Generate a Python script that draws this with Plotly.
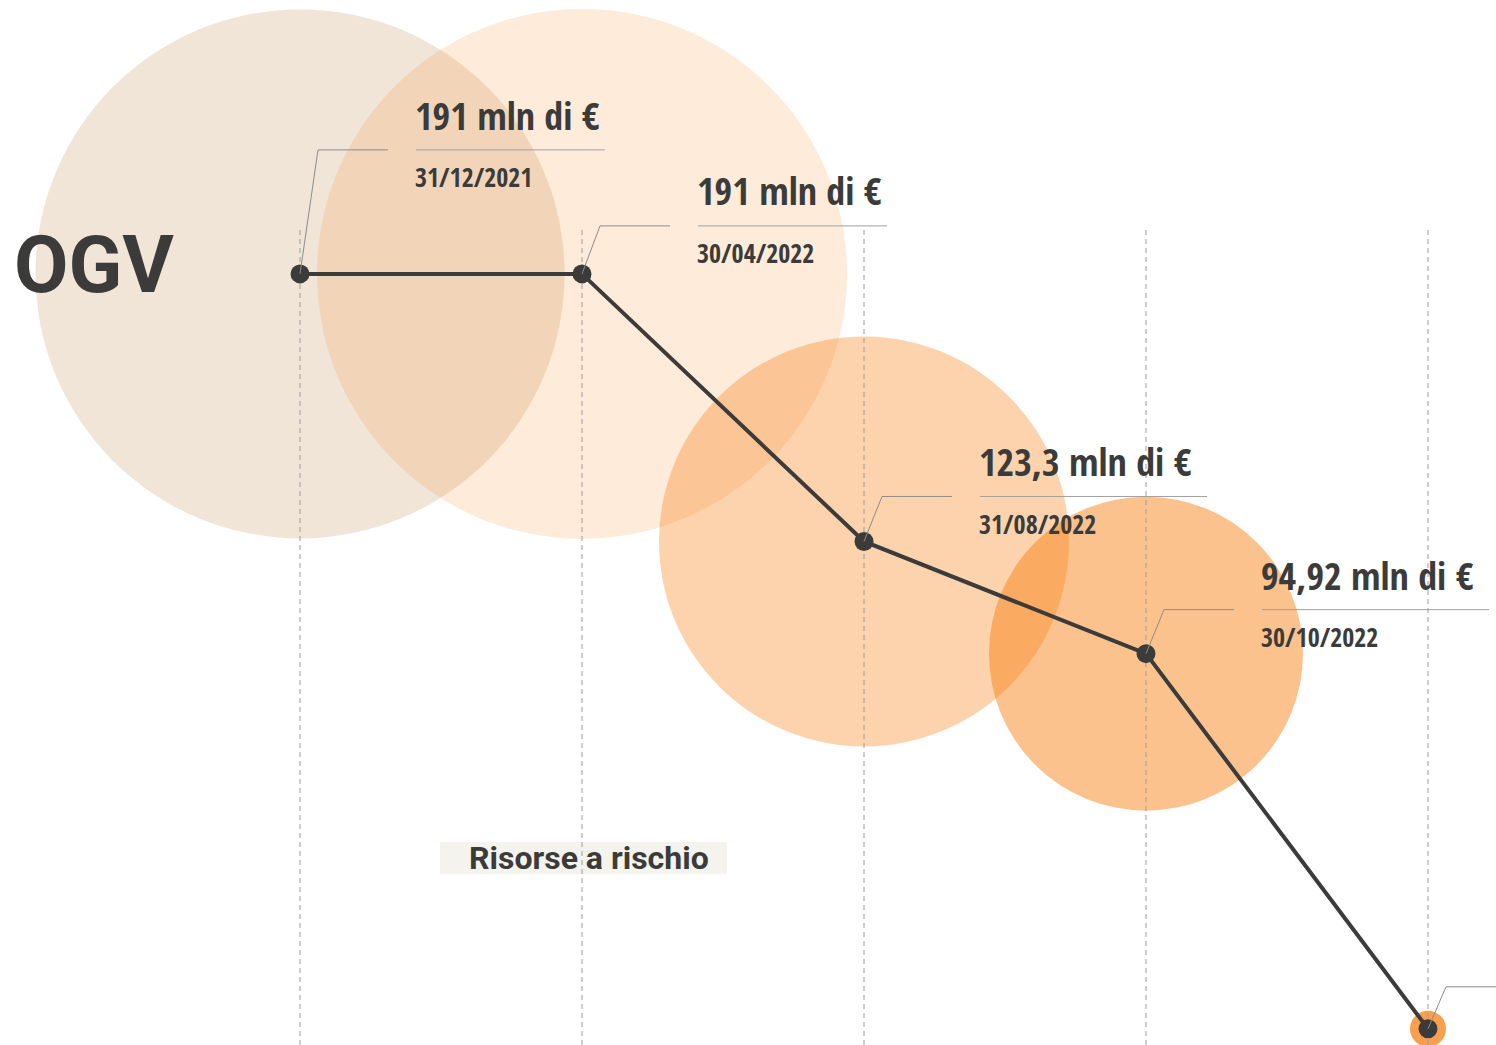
import plotly.graph_objects as go

# ---------------- data ----------------
dates = ["31/12/2021", "30/04/2022", "31/08/2022", "30/10/2022", ""]
values = [191, 191, 123.3, 94.92, 0]
value_labels = ["191 mln di €", "191 mln di €", "123,3 mln di €", "94,92 mln di €", ""]
title_text = "OGV"
legend_text = "Risorse a rischio"

# ---------------- styles ----------------
W, H = 1496, 1045
X_FIRST_PX, X_STEP_PX = 300, 282
X0 = -X_FIRST_PX / X_STEP_PX
X1 = X0 + W / X_STEP_PX
Y1, Y0 = 260.3, -4.1

bubble_diam = [529, 530, 410, 314, 36]
bubble_colors = ["rgba(200,150,100,0.25)", "rgba(248,122,8,0.15)", "rgba(248,122,8,0.33)",
                 "rgba(248,122,8,0.46)", "rgba(248,122,8,0.72)"]
DARK = "#3b3b39"
COND = ("Noto Sans ExtraCondensed, Noto Sans Condensed, Open Sans Condensed, "
        "Liberation Sans Narrow, DejaVu Sans Condensed, Roboto, sans-serif")
# per-label offsets (px, upward): leader elbow, value text, date text
leader_up = [124, 48, 45, 44, 42]
value_up = [159, 84, 80, 79, 0]
date_up = [97, 21, 17, 17, 0]


def px_to_y(py):
    return Y1 - py / H * (Y1 - Y0)


xs = list(range(len(values)))
fig = go.Figure()

# bubbles
fig.add_trace(go.Scatter(
    x=xs, y=values, mode="markers", hoverinfo="skip",
    marker=dict(size=bubble_diam, color=bubble_colors, line=dict(width=0), opacity=1),
))

# dashed vertical guides
for i in xs:
    fig.add_trace(go.Scatter(
        x=[i, i], y=[px_to_y(230), px_to_y(1045)], mode="lines", hoverinfo="skip",
        line=dict(color="#9c9c9c", width=1, dash="5px,4px"),
    ))

# main line
fig.add_trace(go.Scatter(
    x=xs, y=values, mode="lines+markers", hoverinfo="skip",
    line=dict(color=DARK, width=4),
    marker=dict(size=19, color=DARK),
))

shapes = []
annotations = []
for i, (v, lab, d) in enumerate(zip(values, value_labels, dates)):
    up = leader_up[i]
    shapes.append(dict(
        type="path", xref="x", yref="y", xsizemode="pixel", ysizemode="pixel",
        xanchor=i, yanchor=v, path=f"M0,0 L18,{up} L88,{up}",
        line=dict(color="#8c8c8c", width=1),
    ))
    if lab:
        ul = 19 * len(lab) - 39
        shapes.append(dict(
            type="path", xref="x", yref="y", xsizemode="pixel", ysizemode="pixel",
            xanchor=i, yanchor=v, path=f"M116,{up} L{116 + ul},{up}",
            line=dict(color="#a0a0a0", width=1),
        ))
        annotations.append(dict(
            x=i, y=v, xref="x", yref="y", text=lab, showarrow=False,
            xanchor="left", yanchor="middle", xshift=113, yshift=value_up[i],
            font=dict(family=COND, size=38, color=DARK, weight="bold"),
        ))
        annotations.append(dict(
            x=i, y=v, xref="x", yref="y", text=d, showarrow=False,
            xanchor="left", yanchor="middle", xshift=113, yshift=date_up[i],
            font=dict(family=COND, size=26, color=DARK, weight="bold"),
        ))

# title
annotations.append(dict(
    x=12 / W, y=1 - 265 / H, xref="paper", yref="paper", text=title_text, showarrow=False,
    xanchor="left", yanchor="middle",
    font=dict(family="Roboto, DejaVu Sans, sans-serif", size=79, color=DARK, weight="bold"),
))

# legend-like label with background box
shapes.append(dict(type="rect", xref="paper", yref="paper",
                   x0=440 / W, x1=727 / W, y0=1 - 874 / H, y1=1 - 842 / H,
                   fillcolor="#F4F3EE", line=dict(width=0), layer="below"))
annotations.append(dict(
    x=589 / W, y=1 - 858 / H, xref="paper", yref="paper", text=legend_text, showarrow=False,
    xanchor="center", yanchor="middle",
    font=dict(family="Roboto, DejaVu Sans, sans-serif", size=32, color=DARK, weight="bold"),
))

fig.update_layout(
    width=W, height=H, margin=dict(l=0, r=0, t=0, b=0),
    paper_bgcolor="white", plot_bgcolor="white", showlegend=False,
    xaxis=dict(range=[X0, X1], visible=False, fixedrange=True),
    yaxis=dict(range=[Y0, Y1], visible=False, fixedrange=True),
    shapes=shapes, annotations=annotations,
)

fig.write_html("out.html", config={"displayModeBar": False},
               post_script="document.body.style.margin='0';document.body.style.overflow='hidden';")
